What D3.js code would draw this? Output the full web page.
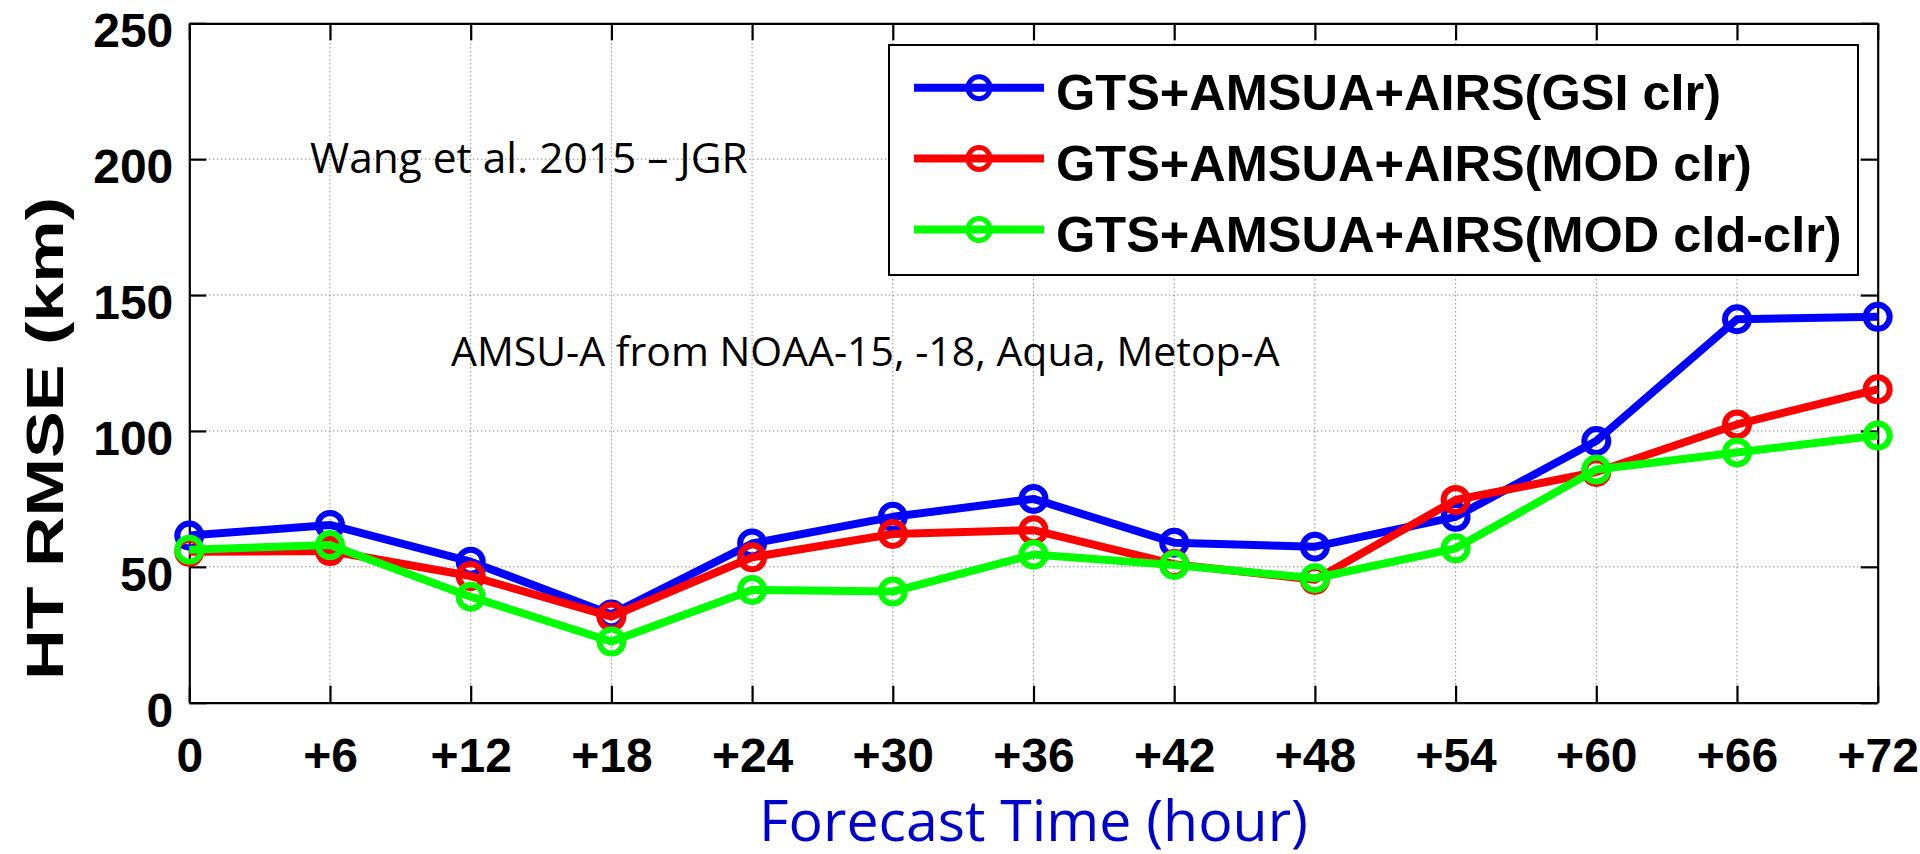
<!DOCTYPE html>
<html>
<head>
<meta charset="utf-8">
<script src="https://cdn.jsdelivr.net/npm/d3@7"></script>
<style>
  html, body { margin: 0; padding: 0; background: #fff; }
  svg { display: block; }
</style>
</head>
<body>
<svg id="chart" width="1920" height="854"></svg>
<script>
// ---- data ----
const hours = [0, 6, 12, 18, 24, 30, 36, 42, 48, 54, 60, 66, 72];
const xTickLabels = ["0", "+6", "+12", "+18", "+24", "+30", "+36", "+42", "+48", "+54", "+60", "+66", "+72"];
const yTicks = [0, 50, 100, 150, 200, 250];
const seriesNames = ["GTS+AMSUA+AIRS(GSI clr)", "GTS+AMSUA+AIRS(MOD clr)", "GTS+AMSUA+AIRS(MOD cld-clr)"];
const seriesColors = ["#0000ff", "#ff0000", "#00ff00"];
const gsiClr    = [61.5, 65.4, 51.9, 32.5, 58.6, 68.4, 75.0, 58.9, 57.4, 68.4, 96.3, 141.1, 142.0];
const modClr    = [55.5, 55.8, 46.6, 31.7, 53.5, 62.1, 63.5, 51.0, 45.2, 74.6, 84.9, 102.4, 115.3];
const modCldClr = [56.3, 58.0, 39.0, 22.5, 41.5, 40.9, 54.5, 50.7, 45.8, 56.8, 85.8, 92.1, 98.3];
const seriesValues = [gsiClr, modClr, modCldClr];
const yLabel = "HT RMSE (km)";
const xLabel = "Forecast Time (hour)";
const note1 = "Wang et al. 2015 \u2013 JGR";
const note2 = "AMSU-A from NOAA-15, -18, Aqua, Metop-A";

// ---- layout ----
const L = 189.3, R = 1877.7, T = 23.3, B = 702.7;
const svg = d3.select("#chart");
const x = d3.scaleLinear().domain([0, 72]).range([L, R]);
const y = d3.scaleLinear().domain([0, 250]).range([B, T]);
const boldFont = "'Liberation Sans', Arial, Helvetica, sans-serif";
const lightFont = "'Open Sans', 'Noto Sans', sans-serif";

// gridlines (dotted)
const grid = svg.append("g");
grid.selectAll("line.gx").data(hours.slice(1, -1)).join("line")
  .attr("x1", d => x(d)).attr("x2", d => x(d)).attr("y1", T).attr("y2", B)
  .attr("stroke", "#555").attr("stroke-width", 1).attr("stroke-dasharray", "1,3");
grid.selectAll("line.gy").data(yTicks.slice(1, -1)).join("line")
  .attr("x1", L).attr("x2", R).attr("y1", d => y(d)).attr("y2", d => y(d))
  .attr("stroke", "#555").attr("stroke-width", 1).attr("stroke-dasharray", "1,3");

// axes
function styleAxis(g) {
  g.selectAll("path.domain").attr("stroke", "#000").attr("stroke-width", 2.2);
  g.selectAll(".tick line").attr("stroke", "#000").attr("stroke-width", 2.2);
  g.selectAll(".tick text").attr("fill", "#000")
    .style("font-family", boldFont).style("font-weight", "bold").style("font-size", "48px");
}
const axB = svg.append("g").attr("transform", `translate(0,${B})`)
  .call(d3.axisBottom(x).tickValues(hours).tickFormat((d, i) => xTickLabels[i]).tickSize(-17).tickSizeOuter(0).tickPadding(35));
styleAxis(axB);
const axL = svg.append("g").attr("transform", `translate(${L},0)`)
  .call(d3.axisLeft(y).tickValues(yTicks).tickSize(-17).tickSizeOuter(0).tickPadding(16));
styleAxis(axL);
axL.selectAll(".tick text").attr("dy", "0.49em");
const axT = svg.append("g").attr("transform", `translate(0,${T})`)
  .call(d3.axisTop(x).tickValues(hours).tickFormat("").tickSize(-17).tickSizeOuter(0));
styleAxis(axT);
const axR = svg.append("g").attr("transform", `translate(${R},0)`)
  .call(d3.axisRight(y).tickValues(yTicks).tickFormat("").tickSize(-17).tickSizeOuter(0));
styleAxis(axR);

// annotation text
function fitText(sel, targetWidth) {
  const base = 40;
  sel.style("font-size", base + "px");
  const w = sel.node().getComputedTextLength();
  sel.style("font-size", (base * targetWidth / w) + "px");
}
const t1 = svg.append("text").attr("x", 310).attr("y", 173).text(note1)
  .style("font-family", lightFont).attr("fill", "#000");
fitText(t1, 438);
const t2 = svg.append("text").attr("x", 451).attr("y", 366).text(note2)
  .style("font-family", lightFont).attr("fill", "#000");
fitText(t2, 829);

// series
const line = d3.line().x((d, i) => x(hours[i])).y(d => y(d));
seriesValues.forEach((vals, k) => {
  const g = svg.append("g");
  g.append("path").datum(vals).attr("d", line)
    .attr("fill", "none").attr("stroke", seriesColors[k]).attr("stroke-width", 8)
    .attr("stroke-linejoin", "round");
  g.selectAll("circle").data(vals).join("circle")
    .attr("cx", (d, i) => x(hours[i])).attr("cy", d => y(d)).attr("r", 12)
    .attr("fill", "none").attr("stroke", seriesColors[k]).attr("stroke-width", 6);
});

// legend
const lg = svg.append("g");
lg.append("rect").attr("x", 889).attr("y", 45).attr("width", 1858 - 889).attr("height", 275 - 45)
  .attr("fill", "#fff").attr("stroke", "#000").attr("stroke-width", 2);
const rowY = [87.7, 158.5, 229.5];
seriesNames.forEach((name, k) => {
  lg.append("line").attr("x1", 914).attr("x2", 1044).attr("y1", rowY[k]).attr("y2", rowY[k])
    .attr("stroke", seriesColors[k]).attr("stroke-width", 8);
  lg.append("circle").attr("cx", 979).attr("cy", rowY[k]).attr("r", 11)
    .attr("fill", "none").attr("stroke", seriesColors[k]).attr("stroke-width", 5);
  lg.append("text").attr("x", 1056).attr("y", rowY[k] + 22).text(name)
    .style("font-family", boldFont).style("font-weight", "bold").style("font-size", "50.5px")
    .attr("fill", "#000");
});

// axis labels
const xl = svg.append("text").attr("x", (L + R) / 2).attr("y", 841).attr("text-anchor", "middle")
  .text(xLabel).style("font-family", lightFont).attr("fill", "#0000cc");
fitText(xl, 549);
svg.append("text").attr("transform", `translate(63,197) rotate(-90)`)
  .attr("text-anchor", "end").text(yLabel)
  .attr("textLength", 483).attr("lengthAdjust", "spacingAndGlyphs")
  .style("font-family", boldFont).style("font-weight", "bold").style("font-size", "52px")
  .attr("fill", "#000");
</script>
</body>
</html>
